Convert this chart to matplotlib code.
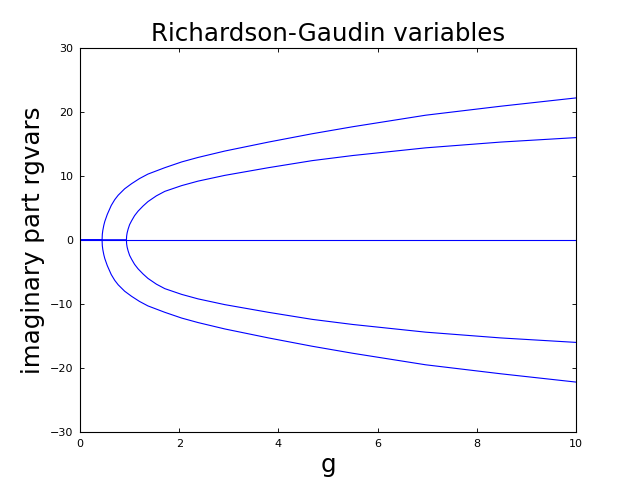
import matplotlib
matplotlib.use("Agg")
import matplotlib.pyplot as plt

# coupling values and imaginary parts
outer_g = [0.0, 0.445, 0.45, 0.46, 0.48, 0.50, 0.55, 0.63, 0.70, 0.77, 0.90, 1.04, 1.20, 1.37,
           1.71, 2.05, 2.38, 2.92, 3.80, 4.68, 5.50, 6.97, 8.48, 10.0]
outer_im = [0.0, 0.0, 0.9, 1.5, 2.3, 2.9, 4.0, 5.4, 6.3, 7.0, 8.0, 8.8, 9.6, 10.3,
            11.3, 12.2, 12.9, 13.9, 15.3, 16.6, 17.7, 19.5, 20.9, 22.2]

inner_g = [0.0, 0.936, 0.94, 0.95, 0.97, 1.00, 1.04, 1.10, 1.17, 1.27, 1.37, 1.54, 1.71,
           2.05, 2.38, 2.92, 3.80, 4.68, 5.50, 6.97, 8.48, 10.0]
inner_im = [0.0, 0.0, 0.6, 1.1, 1.7, 2.4, 3.0, 3.8, 4.5, 5.3, 6.0, 6.9, 7.6,
            8.5, 9.2, 10.1, 11.3, 12.4, 13.2, 14.4, 15.3, 16.0]

real_g = [0.0, 10.0]
real_im = [0.0, 0.0]

xticks = [0, 2, 4, 6, 8, 10]
yticks = [-30, -20, -10, 0, 10, 20, 30]

fig = plt.figure(figsize=(8, 6), dpi=80)
ax = fig.add_axes([0.125, 0.1, 0.775, 0.8])

ax.plot(outer_g, outer_im, color='b', lw=1)
ax.plot(outer_g, [-v for v in outer_im], color='b', lw=1)
ax.plot(inner_g, inner_im, color='b', lw=1)
ax.plot(inner_g, [-v for v in inner_im], color='b', lw=1)
ax.plot(real_g, real_im, color='b', lw=1)

ax.set_xlim(0, 10)
ax.set_ylim(-30, 30)
ax.set_xticks(xticks)
ax.set_yticks(yticks)
ax.tick_params(direction='in', top=True, right=True, length=4, labelsize=10, pad=6)
for s in ax.spines.values():
    s.set_linewidth(1)

ax.set_title("Richardson-Gaudin variables", fontsize=22)
ax.set_xlabel("g", fontsize=22)
ax.set_ylabel("imaginary part rgvars", fontsize=22)

fig.savefig("out.png", dpi=80)
